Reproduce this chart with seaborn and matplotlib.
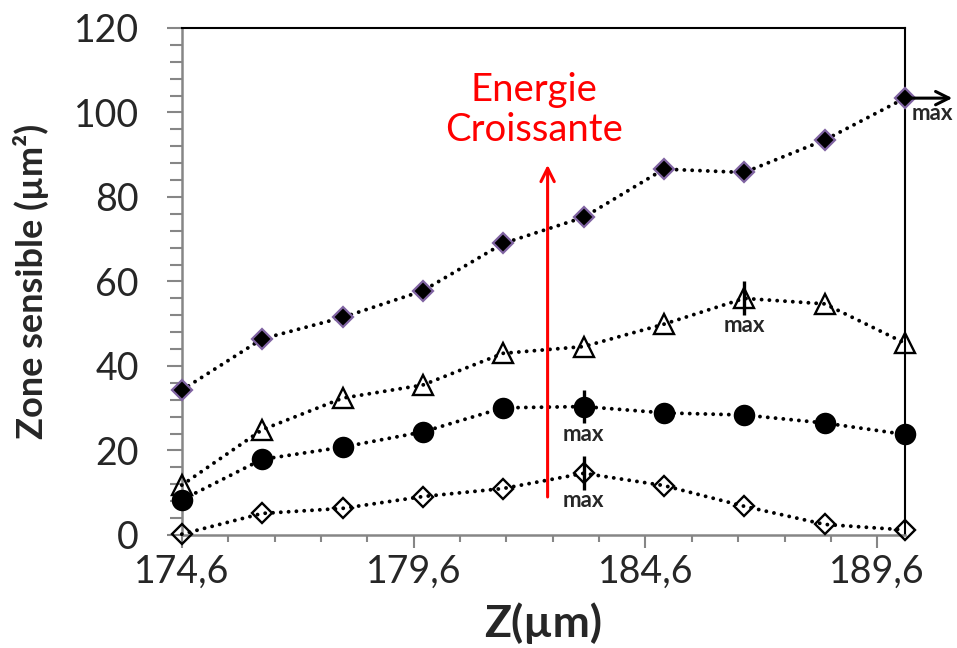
"""
Zone sensible vs Z, four energies
"""
import numpy as np
import pandas as pd
import matplotlib
matplotlib.use('Agg')
import matplotlib.pyplot as plt
import seaborn as sns

"""
Data read off the figure
"""
z = [174.6, 176.33, 178.07, 179.8, 181.53, 183.27, 185.0, 186.73, 188.47, 190.2]
zone_e4 = [34.3, 46.4, 51.5, 57.8, 69.0, 75.2, 86.6, 85.8, 93.5, 103.4]
zone_e3 = [11.8, 24.9, 32.4, 35.5, 43.0, 44.6, 49.9, 56.0, 54.7, 45.4]
zone_e2 = [8.3, 17.9, 20.8, 24.4, 30.1, 30.4, 28.9, 28.4, 26.5, 23.8]
zone_e1 = [0.2, 5.1, 6.3, 9.1, 11.0, 14.6, 11.7, 6.8, 2.5, 1.2]

x_ticks = [174.6, 179.6, 184.6, 189.6]
x_tick_labels = ['174,6', '179,6', '184,6', '189,6']
y_ticks = [0, 20, 40, 60, 80, 100, 120]

sns.set_style('white')
plt.rcParams['font.family'] = ['Lato', 'DejaVu Sans']

fig = plt.figure(figsize=(9.57, 6.48), dpi=100)
ax = fig.add_axes([0.190, 0.1744, 0.7557, 0.7824])

line_kw = dict(color='black', linewidth=2.8, linestyle=(0, (0.01, 2.0)),
               dash_capstyle='round', sort=False, ax=ax, zorder=3, clip_on=False)

# filled diamond, purple edge
sns.lineplot(x=z, y=zone_e4, marker='D', markersize=10.5, markerfacecolor='black',
             markeredgecolor='#8064A2', markeredgewidth=1.6, **line_kw)
# open triangle
sns.lineplot(x=z, y=zone_e3, marker='^', markersize=14, markerfacecolor='none',
             markeredgecolor='black', markeredgewidth=1.7, **line_kw)
# filled circle
sns.lineplot(x=z, y=zone_e2, marker='o', markersize=15.5, markerfacecolor='black',
             markeredgecolor='black', markeredgewidth=0, **line_kw)
# open diamond
sns.lineplot(x=z, y=zone_e1, marker='D', markersize=10, markerfacecolor='none',
             markeredgecolor='black', markeredgewidth=1.7, **line_kw)

# "max" marks
for series in [zone_e3, zone_e2, zone_e1]:
    i = int(np.argmax(series))
    ax.vlines(z[i], series[i] - 4, series[i] + 4, color='black', linewidth=2.4, zorder=5)
    ax.text(z[i], series[i] - 6.5, 'max', ha='center', va='center',
            fontsize=16, fontweight='bold', zorder=6)

i = int(np.argmax(zone_e4))
ax.annotate('', xy=(z[i] + 1.02, zone_e4[i]), xytext=(z[i], zone_e4[i]),
            arrowprops=dict(arrowstyle='->', color='black', lw=2.2, mutation_scale=24,
                            shrinkA=0, shrinkB=0),
            annotation_clip=False, zorder=6)
ax.text(z[i] + 0.15, zone_e4[i] - 3.6, 'max', ha='left', va='center',
        fontsize=16, fontweight='bold', clip_on=False)

# Energie croissante arrow
ax.annotate('', xy=(182.49, 87.6), xytext=(182.49, 9.0),
            arrowprops=dict(arrowstyle='->', color='red', lw=2.2, mutation_scale=24,
                            shrinkA=0, shrinkB=0))
ax.text(182.2, 100.6, 'Energie\nCroissante', color='red', ha='center', va='center',
        fontsize=27.5, linespacing=1.15)

ax.set_xlim(174.6, 190.2)
ax.set_ylim(0, 120)
ax.set_xticks(x_ticks, x_tick_labels)
ax.set_xticks(np.arange(175.6, 189.0, 1.0), minor=True)
ax.set_yticks(y_ticks)
ax.set_yticks(np.arange(0, 121, 4), minor=True)

for side in ['left', 'bottom']:
    ax.spines[side].set_color('#868686')
    ax.spines[side].set_linewidth(1.8)
for side in ['top', 'right']:
    ax.spines[side].set_color('black')
    ax.spines[side].set_linewidth(1.5)

ax.tick_params(axis='x', which='major', direction='out', length=9.5, width=1.5,
               color='#868686', labelsize=27, pad=4, bottom=True)
ax.tick_params(axis='x', which='minor', direction='out', length=5, width=1.5,
               color='#868686', bottom=True)
ax.tick_params(axis='y', which='major', direction='out', length=11, width=1.5,
               color='#868686', labelsize=27, pad=20, left=True)
ax.tick_params(axis='y', which='minor', direction='out', length=8.5, width=1.5,
               color='#868686', left=True)

ax.set_xlabel('Z(µm)', fontsize=32, fontweight='bold', labelpad=9)
ax.set_ylabel('Zone sensible (µm²)', fontsize=26, fontweight='bold', labelpad=18)

fig.savefig('out.png', dpi=100)
plt.close()
